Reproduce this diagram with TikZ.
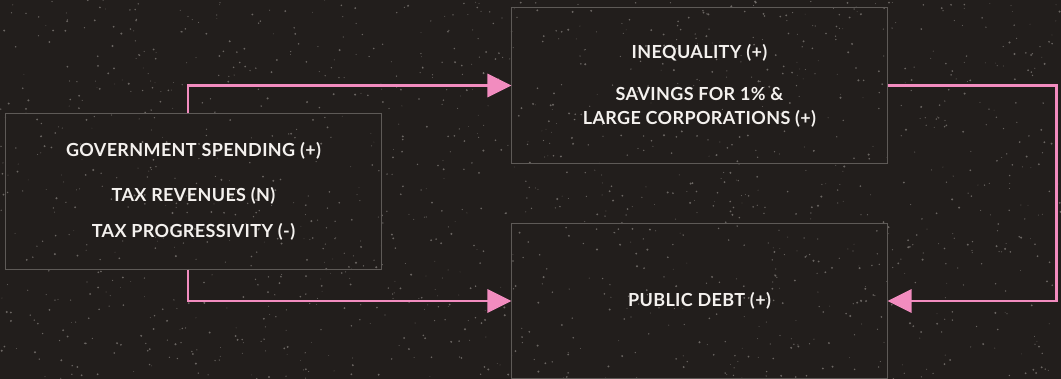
\documentclass[tikz,border=0pt]{standalone}
\usepackage{fontspec}
\setmainfont{Lato}
\usepackage{xcolor}
\usepackage{tikz}
\usetikzlibrary{arrows.meta,calc}

\definecolor{bgdark}{HTML}{221E1C}
\definecolor{boxline}{HTML}{5E5A57}
\definecolor{flowpink}{HTML}{F28CBF}
\definecolor{speckgray}{HTML}{8A8581}
\definecolor{labelwhite}{HTML}{F4F1EE}

\begin{document}
\begin{tikzpicture}[x=0.025cm, y=-0.025cm,
        box/.style={draw=boxline, line width=0.7pt, minimum width=9.375cm, minimum height=3.875cm,
            text=labelwhite, font=\bfseries\fontsize{12.8}{17}\selectfont\addfontfeature{LetterSpace=2}, align=center},
        flow/.style={draw=flowpink, line width=1.8pt, -{Triangle[length=0.6cm, width=0.58cm]}}]
    \useasboundingbox (0, 0) rectangle (1061, 379);
    \fill[bgdark] (0, 0) rectangle (1061, 379);

    % speckled texture
    \pgfmathsetseed{42}
    \foreach \i in {1,...,1500}
        \fill[speckgray, opacity=0.7] (rnd*1061, rnd*379) circle (0.25pt + rnd*0.55pt);

    \node[box] (policy) at (193.5, 191.5) {GOVERNMENT SPENDING (+)\\[0.53cm]
        TAX REVENUES (N)\\[0.3cm]
        TAX PROGRESSIVITY (-)};
    \node[box] (inequality) at (699.5, 85.5) {INEQUALITY (+)\\[0.46cm]
        SAVINGS FOR 1\% \&\\
        LARGE CORPORATIONS (+)};
    \node[box, minimum height=3.85cm] (debt) at (699.5, 301) {PUBLIC DEBT (+)};

    \draw[flow] ($(policy.north)+(-5.5, 0)$) |- (inequality.west);
    \draw[flow] ($(policy.south)+(-5.5, 0)$) |- (debt.west);
    \draw[flow] (inequality.east) -- ++(169, 0) |- (debt.east);
\end{tikzpicture}
\end{document}
